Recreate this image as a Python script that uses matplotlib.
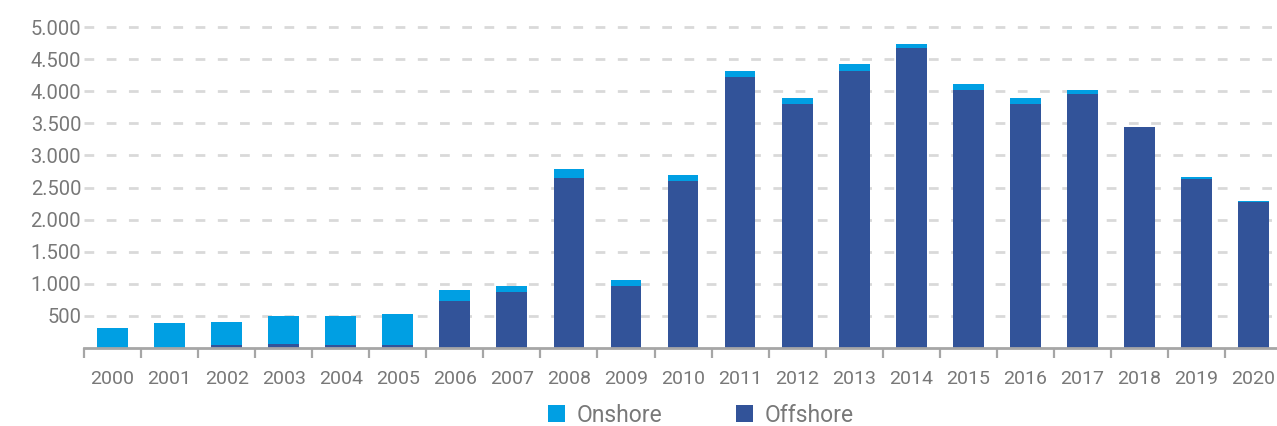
import matplotlib
matplotlib.use("Agg")
import matplotlib.pyplot as plt
from matplotlib.ticker import FixedLocator, FuncFormatter
import numpy as np

years = [str(y) for y in range(2000, 2021)]
offshore = [0, 0, 50, 65, 50, 50, 730, 870, 2650, 965, 2600,
            4220, 3800, 4315, 4675, 4020, 3800, 3955, 3440, 2630, 2275]
onshore = [310, 390, 355, 440, 450, 480, 175, 95, 140, 95, 95,
           95, 95, 110, 60, 95, 95, 65, 0, 35, 15]
y_ticks = [500, 1000, 1500, 2000, 2500, 3000, 3500, 4000, 4500, 5000]

C_ON = "#009fe3"
C_OFF = "#325399"
GRID = "#d9d9d9"
AXIS = "#a6a6a6"
TXT = "#787878"

plt.rcParams["font.family"] = ["Roboto", "DejaVu Sans"]

W, H = 1277, 426
fig = plt.figure(figsize=(W / 100, H / 100), dpi=100)

ymax = 5100
px_per_unit = 321 / 5000
ax_h = ymax * px_per_unit
ax = fig.add_axes([84 / W, 78 / H, 21 * 57.05 / W, ax_h / H])

x = np.arange(len(years))
bw = 0.54
ax.bar(x, offshore, width=bw, color=C_OFF, zorder=3, label="Offshore")
ax.bar(x, onshore, width=bw, bottom=offshore, color=C_ON, zorder=3,
       label="Onshore")

ax.set_xlim(-0.5, len(years) - 0.5)
ax.set_ylim(0, ymax)

# horizontal dashed grid
ax.yaxis.set_major_locator(FixedLocator(y_ticks))
ax.yaxis.set_major_formatter(
    FuncFormatter(lambda v, p: f"{v:,.0f}".replace(",", ".")))
ax.grid(axis="y", color=GRID, linestyle=(0, (3.5, 4.5)), linewidth=2,
        zorder=0)
ax.tick_params(axis="y", length=0, pad=2, labelsize=14.5, labelcolor=TXT)

# category boundaries as major ticks, year labels on minor ticks
ax.xaxis.set_major_locator(FixedLocator(np.arange(-0.5, len(years), 1.0)))
ax.xaxis.set_major_formatter(FuncFormatter(lambda v, p: ""))
ax.xaxis.set_minor_locator(FixedLocator(x))
ax.xaxis.set_minor_formatter(FuncFormatter(lambda v, p: years[int(round(v))]))
ax.tick_params(axis="x", which="major", length=7, width=1.6, color=AXIS,
               direction="out")
ax.tick_params(axis="x", which="minor", length=0, pad=15.5, labelsize=14,
               labelcolor=TXT)

for s in ["left", "right", "top"]:
    ax.spines[s].set_visible(False)
ax.spines["bottom"].set_color(AXIS)
ax.spines["bottom"].set_linewidth(2)
ax.spines["bottom"].set_zorder(4)

handles, labels = ax.get_legend_handles_labels()
leg = fig.legend(handles[::-1], labels[::-1], loc="center",
                 bbox_to_anchor=(701 / W, 1 - 415 / H), ncol=2, frameon=False,
                 handlelength=0.75, handleheight=0.75,
                 handletextpad=0.5, columnspacing=3.2,
                 prop={"size": 16.5})
for t in leg.get_texts():
    t.set_color(TXT)

fig.savefig("out.png", dpi=100)
